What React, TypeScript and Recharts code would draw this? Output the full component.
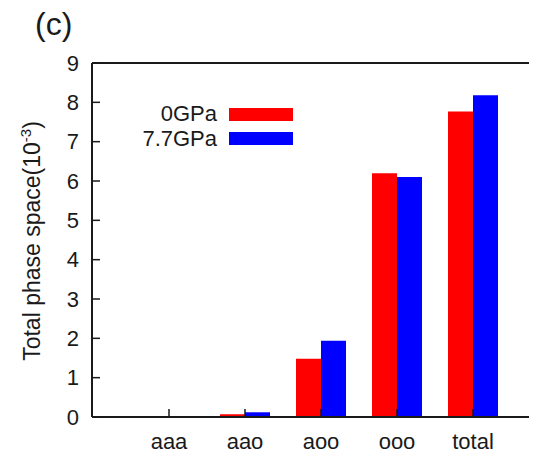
import React from 'react';
import { BarChart, Bar, XAxis, YAxis, Legend } from 'recharts';

const categories = ['aaa', 'aao', 'aoo', 'ooo', 'total'];
const gpa0 = [0, 0.07, 1.48, 6.2, 7.77];
const gpa77 = [0, 0.12, 1.94, 6.1, 8.18];
const yTicks = [0, 1, 2, 3, 4, 5, 6, 7, 8, 9];

const data = categories.map((name, i) => ({ name, gpa0: gpa0[i], gpa77: gpa77[i] }));

const font = '"Liberation Sans", Arial, Helvetica, sans-serif';
const ink = '#1a1a1a';

const YLabel = () => (
  <text
    x={32}
    y={233}
    transform="rotate(-90 32 233)"
    textAnchor="middle"
    fontFamily={font}
    fontSize={23}
    fill={ink}
  >
    Total phase space(10
    <tspan dy={-9} fontSize={15}>-3</tspan>
    <tspan dy={9}>)</tspan>
  </text>
);

const LegendBox = () => {
  const rows = [
    { label: '0GPa', color: '#ff0000' },
    { label: '7.7GPa', color: '#0000ff' },
  ];
  return (
    <div style={{ fontFamily: font, fontSize: 22, color: ink }}>
      {rows.map((r) => (
        <div key={r.label} style={{ display: 'flex', alignItems: 'center', height: 24.5 }}>
          <div style={{ width: 80, textAlign: 'right', lineHeight: '24px' }}>{r.label}</div>
          <div style={{ width: 64, height: 13, background: r.color, marginLeft: 12 }} />
        </div>
      ))}
    </div>
  );
};

const App = () => {
  return (
    <div style={{ position: 'relative', width: 529, height: 447 }}>
      <div
        style={{
          position: 'absolute',
          left: 27,
          top: 0,
          fontFamily: font,
          fontSize: 32,
          lineHeight: '32px',
          color: ink,
        }}
      >
        (c)
      </div>
      <BarChart
        width={529}
        height={447}
        data={data}
        margin={{ top: 50, right: 0, bottom: 0, left: 0 }}
        barSize={25}
        barGap={0}
      >
        <XAxis
          dataKey="name"
          xAxisId="bottom"
          height={38}
          padding={{ left: 39, right: 26 }}
          axisLine={{ stroke: ink, strokeWidth: 2 }}
          tickLine={{ stroke: ink, strokeWidth: 1.5 }}
          tickSize={-8}
          tickMargin={24}
          tick={{ fill: ink, fontSize: 22, fontFamily: font }}
        />
        <XAxis
          dataKey="name"
          xAxisId="top"
          orientation="top"
          height={5}
          padding={{ left: 39, right: 26 }}
          axisLine={{ stroke: ink, strokeWidth: 2 }}
          tickLine={{ stroke: ink, strokeWidth: 1.5 }}
          tickSize={-8}
          tick={false}
        />
        <YAxis
          width={84}
          domain={[0, 9]}
          ticks={yTicks}
          interval={0}
          axisLine={{ stroke: ink, strokeWidth: 2 }}
          tickLine={{ stroke: ink, strokeWidth: 1.5 }}
          tickSize={-8}
          tickMargin={21}
          tick={{ fill: ink, fontSize: 22, fontFamily: font }}
          label={<YLabel />}
        />
        <Legend
          layout="vertical"
          align="center"
          verticalAlign="middle"
          content={<LegendBox />}
          wrapperStyle={{ left: 129, top: 94, width: 200 }}
        />
        <Bar dataKey="gpa0" name="0GPa" fill="#ff0000" xAxisId="bottom" isAnimationActive={false} />
        <Bar dataKey="gpa77" name="7.7GPa" fill="#0000ff" xAxisId="bottom" isAnimationActive={false} />
      </BarChart>
    </div>
  );
};

export default App;
